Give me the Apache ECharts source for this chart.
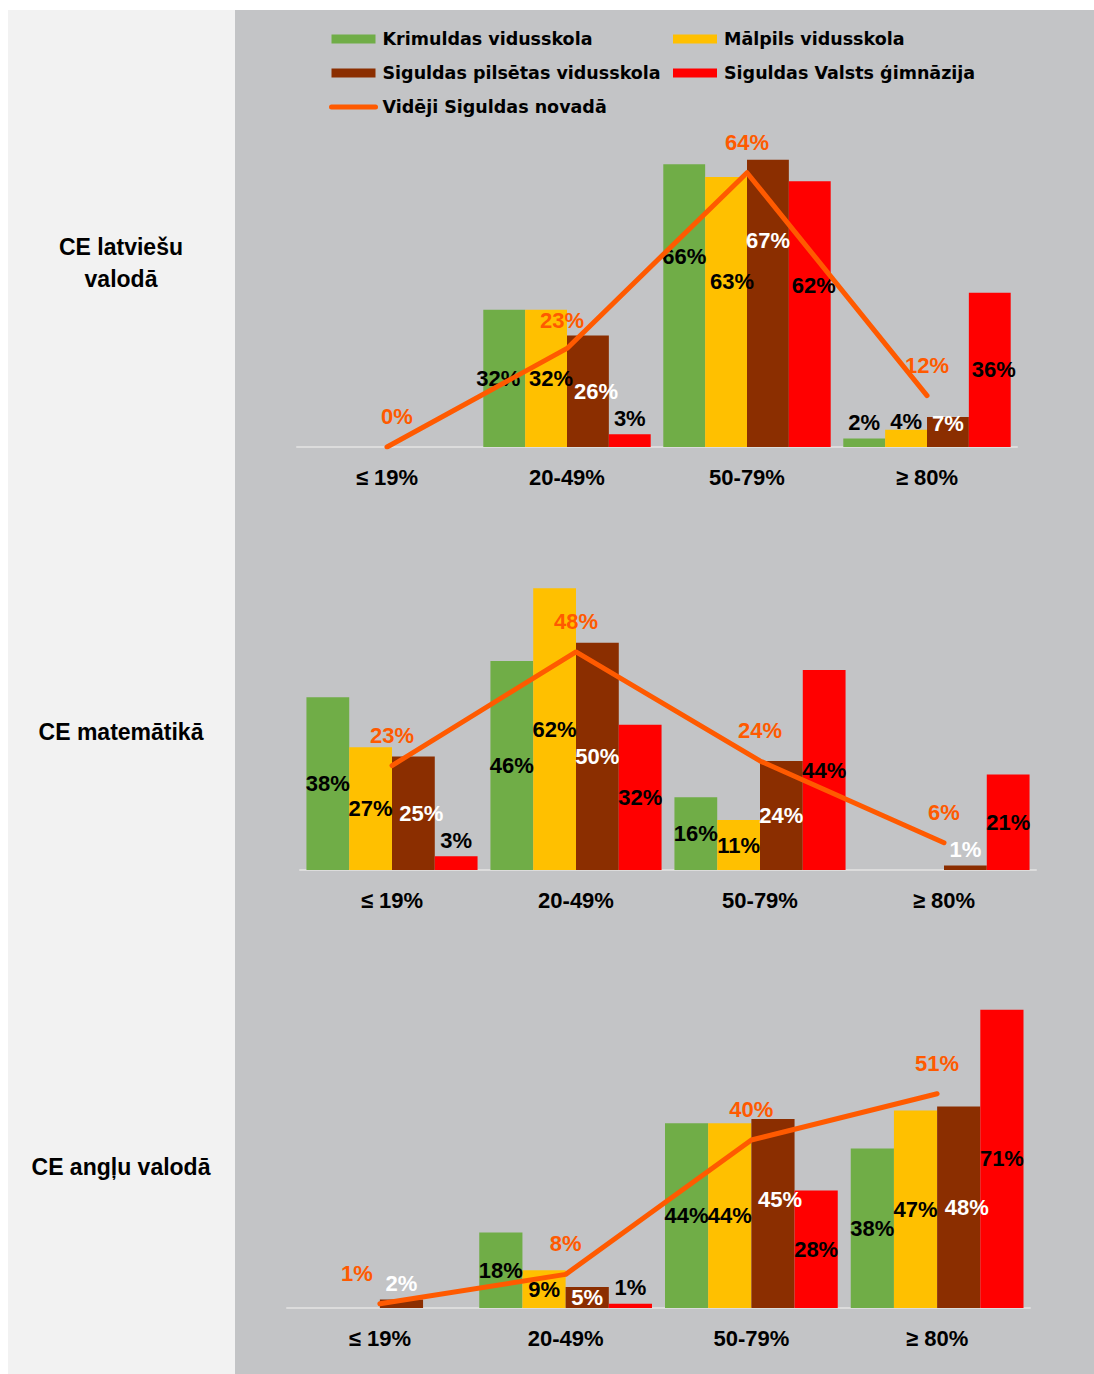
<!DOCTYPE html>
<html>
<head>
<meta charset="utf-8">
<script src="https://cdn.jsdelivr.net/npm/echarts@6/dist/echarts.min.js"></script>
<style>
  html, body { margin: 0; padding: 0; background: #ffffff; }
  #chart { width: 1094px; height: 1374px; }
</style>
</head>
<body>
<div id="chart"></div>
<script>
// ---------- DATA ----------
const categories = ['≤ 19%', '20-49%', '50-79%', '≥ 80%'];
const seriesNames = ['Krimuldas vidusskola', 'Mālpils vidusskola', 'Siguldas pilsētas vidusskola', 'Siguldas Valsts ģimnāzija'];
const avgName = 'Vidēji Siguldas novadā';
const subjects = ['CE latviešu\nvalodā', 'CE matemātikā', 'CE angļu valodā'];

// CE latviešu valodā
const latKrimulda = [0, 32, 66, 2];
const latMalpils  = [0, 32, 63, 4];
const latSigPils  = [0, 26, 67, 7];
const latSigValst = [0, 3, 62, 36];
const latAvg      = [0, 23, 64, 12];

// CE matemātikā
const matKrimulda = [38, 46, 16, 0];
const matMalpils  = [27, 62, 11, 0];
const matSigPils  = [25, 50, 24, 1];
const matSigValst = [3, 32, 44, 21];
const matAvg      = [23, 48, 24, 6];

// CE angļu valodā
const angKrimulda = [0, 18, 44, 38];
const angMalpils  = [0, 9, 44, 47];
const angSigPils  = [2, 5, 45, 48];
const angSigValst = [0, 1, 28, 71];
const angAvg      = [1, 8, 40, 51];

// ---------- STYLE ----------
const barColors = ['#70ad47', '#ffc000', '#8b2e00', '#ff0000'];
const labelColors = ['#000000', '#000000', '#ffffff', '#000000'];
const lineColor = '#ff5a00';
const FONT = '"Liberation Sans", Arial, sans-serif';
const LEGEND_FONT = '"DejaVu Sans", Verdana, sans-serif';

// label nudges (panel|series|category -> [dx, dy]) as in the original layout
const labelNudge = {
  '0|0|1': [-6, 0], '0|1|1': [5, 0], '0|2|1': [8, 0],
  '0|0|2': [0, -49], '0|1|2': [6, -31], '0|2|2': [0, -63], '0|3|2': [4, -29],
  '0|1|3': [0, 8], '0|2|3': [0, -9], '0|3|3': [4, 0],
  '0|avg|0': [10, 0], '0|avg|1': [-5, 3],
  '1|2|0': [8, 0],
  '2|2|2': [7, -14], '2|2|3': [8, 0],
  '2|avg|0': [-23, 0]
};

const panels = [
  { bars: [latKrimulda, latMalpils, latSigPils, latSigValst], avg: latAvg, grid: { left: 297, width: 720, top: 147, height: 300 }, max: 70, textY: 263 },
  { bars: [matKrimulda, matMalpils, matSigPils, matSigValst], avg: matAvg, grid: { left: 300, width: 736, top: 552, height: 318 }, max: 70, textY: 732 },
  { bars: [angKrimulda, angMalpils, angSigPils, angSigValst], avg: angAvg, grid: { left: 287, width: 743, top: 993, height: 315 }, max: 75, textY: 1167 }
];

const grids = [], xAxes = [], yAxes = [], series = [], graphics = [];

graphics.push({ type: 'rect', shape: { x: 8, y: 10, width: 227, height: 1364 }, style: { fill: '#f2f2f2' }, z: -10, silent: true });
graphics.push({ type: 'rect', shape: { x: 235, y: 10, width: 859, height: 1364 }, style: { fill: '#c3c4c6' }, z: -10, silent: true });

function nudge(key) {
  const n = labelNudge[key];
  return n ? { offset: n } : {};
}

panels.forEach((p, i) => {
  grids.push(Object.assign({ outerBoundsMode: 'none', containLabel: false }, p.grid));
  xAxes.push({
    type: 'category', gridIndex: i, data: categories,
    axisLine: { show: true, lineStyle: { color: '#dcdcdc', width: 2 } },
    axisTick: { show: false },
    axisLabel: { color: '#000', fontFamily: FONT, fontWeight: 'bold', fontSize: 22, margin: 19 }
  });
  yAxes.push({ type: 'value', gridIndex: i, min: 0, max: p.max, show: false, splitLine: { show: false } });

  p.bars.forEach((vals, s) => {
    series.push({
      name: seriesNames[s], type: 'bar', xAxisIndex: i, yAxisIndex: i,
      barGap: '0%', barCategoryGap: '7%',
      itemStyle: { color: barColors[s] },
      label: { show: true, color: labelColors[s], fontFamily: FONT, fontWeight: 'bold', fontSize: 22, formatter: '{c}%' },
      data: vals.map((v, c) => ({
        value: v,
        label: Object.assign({ show: v > 0, position: v <= 4 ? 'top' : 'inside' }, nudge(i + '|' + s + '|' + c))
      }))
    });
  });

  series.push({
    name: avgName, type: 'line', xAxisIndex: i, yAxisIndex: i, z: 5,
    symbol: 'circle', symbolSize: 1, showSymbol: true,
    itemStyle: { color: lineColor },
    lineStyle: { color: lineColor, width: 5, cap: 'round', join: 'round' },
    label: { show: true, position: 'top', distance: 19, color: lineColor, fontFamily: FONT, fontWeight: 'bold', fontSize: 22, formatter: '{c}%' },
    data: p.avg.map((v, c) => ({ value: v, label: nudge(i + '|avg|' + c) }))
  });

  graphics.push({
    type: 'text', x: 121, y: p.textY, z: 10,
    style: { text: subjects[i], fill: '#000', font: 'bold 23px ' + FONT, textAlign: 'center', textVerticalAlign: 'middle', lineHeight: 32 }
  });
});

const legendText = { color: '#000', fontFamily: LEGEND_FONT, fontWeight: 'bold', fontSize: 17.5, lineHeight: 20, padding: [0, 0, 0, 2] };

const option = {
  animation: false,
  backgroundColor: 'transparent',
  graphic: graphics,
  legend: [
    { orient: 'vertical', left: 329, top: 29, padding: 0, itemWidth: 44, itemHeight: 9, itemGap: 14, textStyle: legendText,
      selectedMode: false,
      data: [{ name: seriesNames[0], icon: 'rect' }, { name: seriesNames[2], icon: 'rect' }, { name: avgName, itemStyle: { opacity: 0 } }],
      lineStyle: { width: 5 } },
    { orient: 'vertical', left: 673, top: 29, padding: 0, itemWidth: 44, itemHeight: 9, itemGap: 14, textStyle: legendText,
      selectedMode: false,
      data: [{ name: seriesNames[1], icon: 'rect' }, { name: seriesNames[3], icon: 'rect' }] }
  ],
  grid: grids,
  xAxis: xAxes,
  yAxis: yAxes,
  series: series
};

const chart = echarts.init(document.getElementById('chart'), null, { renderer: 'svg', width: 1094, height: 1374 });
chart.setOption(option);
</script>
</body>
</html>
